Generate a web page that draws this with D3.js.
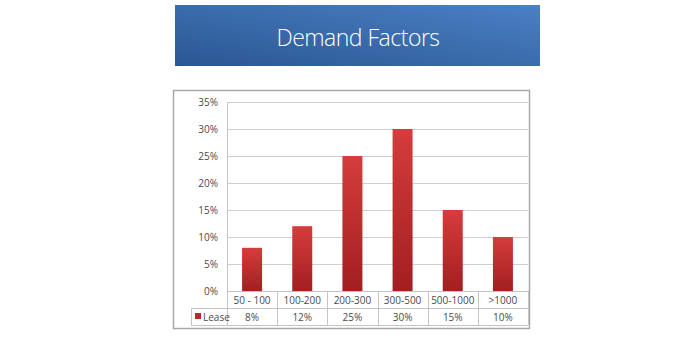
<!DOCTYPE html>
<html>
<head>
<meta charset="utf-8">
<script src="https://cdn.jsdelivr.net/npm/d3@7"></script>
<style>
  body { margin: 0; background: #fff; }
  svg { display: block; }
</style>
</head>
<body>
<script>
const WIDTH = 692;
const HEIGHT = 338;

// data
const categories = ["50 - 100", "100-200", "200-300", "300-500", "500-1000", ">1000"];
const lease = [8, 12, 25, 30, 15, 10];
const yTicks = [0, 5, 10, 15, 20, 25, 30, 35];
const seriesName = "Lease";
const title = "Demand Factors";

const svg = d3.select("body").append("svg").attr("width", WIDTH).attr("height", HEIGHT);
const defs = svg.append("defs");

// banner gradient
const bg = defs.append("linearGradient").attr("id", "banner")
  .attr("x1", "0%").attr("y1", "100%").attr("x2", "100%").attr("y2", "0%");
bg.append("stop").attr("offset", "0%").attr("stop-color", "#2b5793");
bg.append("stop").attr("offset", "100%").attr("stop-color", "#4a80c4");

// bar gradient
const rg = defs.append("linearGradient").attr("id", "bar")
  .attr("x1", "0%").attr("y1", "0%").attr("x2", "0%").attr("y2", "100%");
rg.append("stop").attr("offset", "0%").attr("stop-color", "#d63c3c");
rg.append("stop").attr("offset", "100%").attr("stop-color", "#a21f20");

// title banner
svg.append("rect").attr("x", 175).attr("y", 5).attr("width", 365).attr("height", 61)
  .attr("fill", "url(#banner)");
svg.append("text").attr("x", 358).attr("y", 46)
  .attr("text-anchor", "middle")
  .attr("font-family", "'Open Sans', Lato, sans-serif")
  .attr("font-weight", 300)
  .attr("font-size", 23)
  .attr("letter-spacing", -0.5)
  .attr("fill", "#fff")
  .text(title);

// chart frame
svg.append("rect").attr("x", 173.5).attr("y", 90.5).attr("width", 356).attr("height", 238)
  .attr("fill", "#fff").attr("stroke", "#a8a8a8").attr("stroke-width", 1.5);

const plotLeft = 227, plotRight = 528, plotTop = 102, plotBottom = 291;
const rowH = 17;

const x = d3.scaleBand().domain(categories).range([plotLeft, plotRight]);
const y = d3.scaleLinear().domain([0, 35]).range([plotBottom, plotTop]);

const fontFam = "'Open Sans', 'Liberation Sans', Arial, sans-serif";
const textCol = "#4a4a4a";

// gridlines
svg.append("g").selectAll("line").data(yTicks).join("line")
  .attr("x1", plotLeft).attr("x2", plotRight)
  .attr("y1", d => Math.round(y(d)) + 0.5).attr("y2", d => Math.round(y(d)) + 0.5)
  .attr("stroke", "#cfcfcf").attr("stroke-width", 1);

// y axis
const yAxis = svg.append("g").attr("transform", "translate(" + plotLeft + ",0)")
  .call(d3.axisLeft(y).tickValues(yTicks).tickSize(0).tickPadding(9).tickFormat(d => d + "%"));
yAxis.select(".domain").attr("stroke", "#c4c4c4");
yAxis.selectAll("text").attr("font-family", fontFam).attr("font-size", 10).attr("fill", textCol);

// bars
const barW = 20;
svg.append("g").selectAll("rect").data(lease).join("rect")
  .attr("x", (d, i) => x(categories[i]) + x.bandwidth() / 2 - barW / 2)
  .attr("y", d => y(d))
  .attr("width", barW)
  .attr("height", d => y(0) - y(d))
  .attr("fill", "url(#bar)");

// data table
const table = svg.append("g").attr("stroke", "#c4c4c4").attr("fill", "none");
const legendLeft = 191;
table.append("line").attr("x1", plotLeft).attr("x2", plotRight)
  .attr("y1", plotBottom + 0.5).attr("y2", plotBottom + 0.5);
table.append("line").attr("x1", legendLeft).attr("x2", plotRight)
  .attr("y1", plotBottom + rowH + 0.5).attr("y2", plotBottom + rowH + 0.5);
table.append("line").attr("x1", legendLeft).attr("x2", plotRight)
  .attr("y1", plotBottom + 2 * rowH + 0.5).attr("y2", plotBottom + 2 * rowH + 0.5);
table.append("line").attr("x1", legendLeft + 0.5).attr("x2", legendLeft + 0.5)
  .attr("y1", plotBottom + rowH).attr("y2", plotBottom + 2 * rowH);
table.selectAll("line.col").data(categories.concat(["end"])).join("line")
  .attr("class", "col")
  .attr("x1", (d, i) => Math.round(plotLeft + i * x.bandwidth()) + 0.5)
  .attr("x2", (d, i) => Math.round(plotLeft + i * x.bandwidth()) + 0.5)
  .attr("y1", plotBottom).attr("y2", plotBottom + 2 * rowH);

svg.append("g").selectAll("text").data(categories).join("text")
  .attr("x", d => x(d) + x.bandwidth() / 2)
  .attr("y", plotBottom + 12.5)
  .attr("text-anchor", "middle")
  .attr("font-family", fontFam).attr("font-size", 10).attr("fill", textCol)
  .text(d => d);

svg.append("g").selectAll("text").data(lease).join("text")
  .attr("x", (d, i) => x(categories[i]) + x.bandwidth() / 2)
  .attr("y", plotBottom + rowH + 12.5)
  .attr("text-anchor", "middle")
  .attr("font-family", fontFam).attr("font-size", 10).attr("fill", textCol)
  .text(d => d + "%");

// legend key
svg.append("rect").attr("x", legendLeft + 4).attr("y", plotBottom + rowH + 5)
  .attr("width", 6).attr("height", 6).attr("fill", "#c0282a");
svg.append("text").attr("x", legendLeft + 12).attr("y", plotBottom + rowH + 12.5)
  .attr("font-family", fontFam).attr("font-size", 10).attr("fill", textCol)
  .text(seriesName);
</script>
</body>
</html>
